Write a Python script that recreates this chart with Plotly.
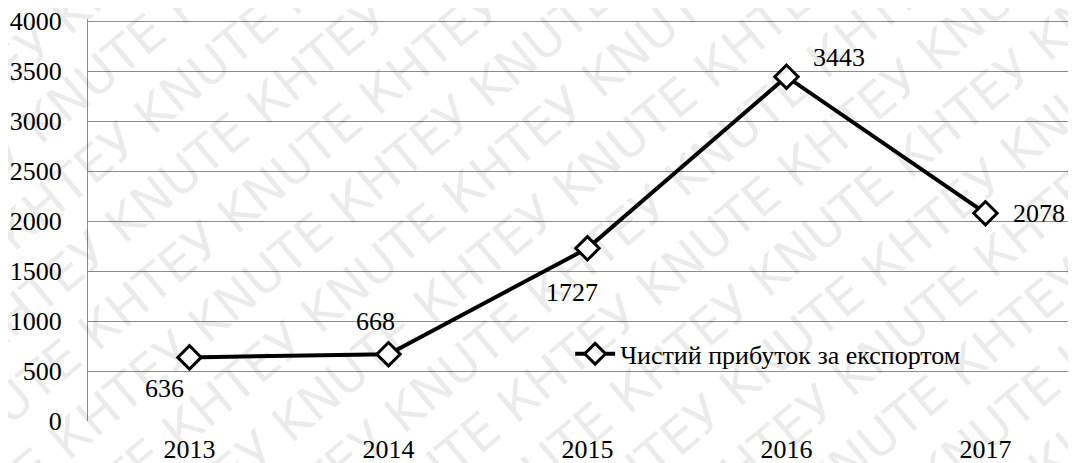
import plotly.graph_objects as go

years = ["2013", "2014", "2015", "2016", "2017"]
profit = [636, 668, 1727, 3443, 2078]
label_dx = [-25, -13, -15, 53, 54]
label_dy = [-31, 33, -44, 19, 0]
y_ticks = [0, 500, 1000, 1500, 2000, 2500, 3000, 3500, 4000]
series_name = "Чистий прибуток за експортом"
watermark_word = "КНТЕУ KNUTE "

font = "Liberation Serif, Times New Roman, serif"
fs = 26

fig = go.Figure()
fig.add_trace(go.Scatter(
    x=list(range(len(years))), y=profit, mode="lines+markers",
    name=series_name,
    line=dict(color="black", width=4),
    marker=dict(symbol="diamond", size=18, color="white",
                line=dict(color="black", width=3)),
))

for i, v in enumerate(profit):
    fig.add_annotation(x=i, y=v, text=str(v), showarrow=False,
                       xshift=label_dx[i], yshift=label_dy[i],
                       font=dict(family=font, size=fs, color="black"))

# watermark block (one rotated multi-line text)
lines = []
for r in range(18):
    shift = "KNUTE " if r % 2 else ""
    lines.append(shift + watermark_word * 5)
fig.add_annotation(x=0.5, y=0.5, xref="paper", yref="paper", text="<br>".join(lines),
                   showarrow=False, textangle=-40, align="center",
                   font=dict(family="DejaVu Sans", size=50, color="rgba(0,0,0,0.08)"))

fig.update_layout(
    width=1068, height=455,
    margin=dict(l=80, r=0, t=11, b=42),
    paper_bgcolor="white", plot_bgcolor="white",
    font=dict(family=font, size=fs, color="black"),
    showlegend=True,
    legend=dict(x=0.488, y=0.167, xanchor="left", yanchor="middle",
                bgcolor="rgba(0,0,0,0)", font=dict(family=font, size=fs),
                itemwidth=40),
    xaxis=dict(range=[-0.51, 4.455], tickvals=list(range(len(years))), ticktext=years,
               showgrid=False, zeroline=False, showline=False, ticks="",
               automargin=False, ticklabelstandoff=10, ticklabeloverflow="allow",
               tickfont=dict(family=font, size=fs)),
    yaxis=dict(range=[0, 4020], tickvals=y_ticks, showgrid=True, gridcolor="#8c8c8c",
               gridwidth=1, zeroline=False, showline=True, linecolor="#8c8c8c", linewidth=1,
               ticks="", automargin=False, ticklabelstandoff=20, ticklabeloverflow="allow",
               tickfont=dict(family=font, size=fs)),
)
fig.write_html("out.html")
